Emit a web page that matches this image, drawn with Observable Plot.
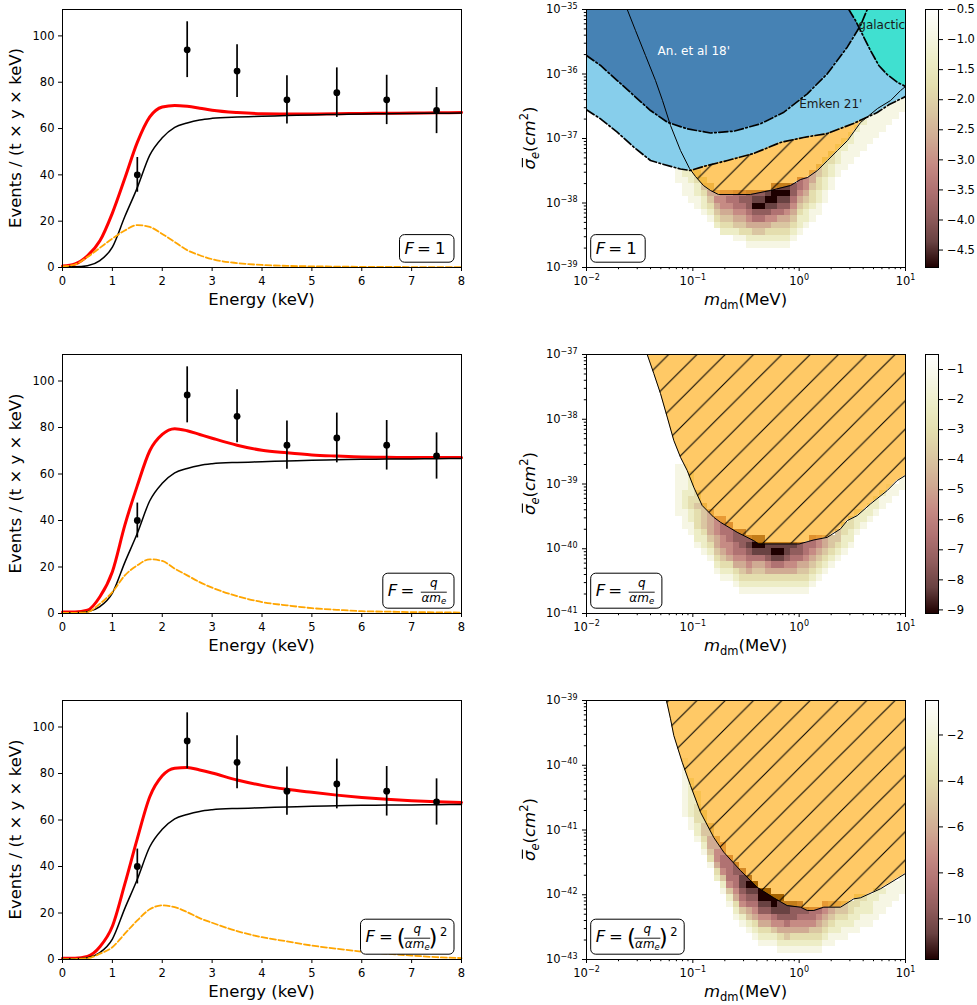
<!DOCTYPE html>
<html>
<head>
<meta charset="utf-8">
<script src="https://cdn.jsdelivr.net/npm/d3@7"></script>
<script src="https://cdn.jsdelivr.net/npm/@observablehq/plot@0.6"></script>
<style>
  html, body { margin: 0; padding: 0; background: #fff; }
  #fig { position: relative; width: 977px; height: 1005px; overflow: hidden; background: #fff; }
  .pn { position: absolute; }
  .pn svg { display: block; max-width: none !important; }
</style>
</head>
<body>
<div id="fig"></div>
<script>
// ================= DATA =================
// ---- left column: event spectra ----
const energyGrid = [0,0.25,0.5,0.75,1,1.25,1.5,1.75,2,2.25,2.5,2.75,3,3.5,4,4.5,5,5.5,6,6.5,7,7.5,8];
const background = [0.3,0.3,0.8,3.0,8.8,22,34.5,48.5,56,60.5,62.4,63.7,64.4,65,65.3,65.6,65.9,66.1,66.3,66.4,66.5,66.6,66.7];
const signalF1 = [0.5,1.3,4.5,8.5,12.5,16,18.3,17.5,14.5,11,7.5,5.3,3.6,1.9,1.1,0.7,0.5,0.4,0.3,0.3,0.2,0.2,0.2];
const totalF1  = [0.6,1.5,5,11.5,23.5,38.5,54,65,69.3,70,69.6,68.8,67.9,66.9,66.4,66.3,66.3,66.4,66.5,66.6,66.7,66.8,66.9];
const signalF2 = [0.3,0.3,0.6,4.2,9.2,16.4,20.7,23.3,22.6,19.3,16.4,13.5,11.1,7.5,4.9,3.5,2.3,1.6,1.0,0.8,0.6,0.5,0.4];
const totalF2  = [0.6,0.6,1.4,7.2,18,38,55,70,77,79.5,78.6,77,75.4,72.4,70.2,69.1,68.2,67.7,67.3,67.2,67.1,67.1,67.1];
const signalF3 = [0.2,0.2,0.5,2.5,5.3,11.1,16.8,21.6,23.3,22.5,20.4,17.8,15.8,12.2,9.6,7.8,6.0,4.6,3.4,2.5,1.7,1.0,0.6];
const totalF3  = [0.5,0.5,1.3,5.5,14.3,32.5,52,70,79,82.3,82.6,81.5,80.2,77.2,74.9,73.2,71.9,70.7,69.7,68.9,68.3,67.8,67.5];
const dataE  = [1.5,2.5,3.5,4.5,5.5,6.5,7.5];
const dataY  = [40,94,84.8,72.4,75.5,72.4,67.8];
const dataLo = [32.5,82,73.4,62,64.8,61.7,57.8];
const dataHi = [47.5,106.1,96.2,82.8,86.2,83,77.7];
const energyTicks = [0,1,2,3,4,5,6,7,8];
const eventTicks = [0,20,40,60,80,100];

// ---- right column: exclusion regions, [log10 m/MeV, log10 sigma/cm^2] ----
const orangeF1 = [[-1.617,-35.0],[-1.539,-35.326],[-1.445,-35.713],[-1.351,-36.101],[-1.285,-36.411],[-1.210,-36.798],[-1.116,-37.186],[-1.031,-37.465],[-0.975,-37.589],[-0.900,-37.729],[-0.834,-37.806],[-0.759,-37.868],[-0.458,-37.868],[-0.270,-37.806],[-0.081,-37.729],[0.013,-37.636],[0.078,-37.605],[0.172,-37.496],[0.266,-37.341],[0.360,-37.186],[0.455,-37.031],[0.577,-36.752],[0.737,-36.535],[0.860,-36.411],[0.954,-36.256],[1.0,-36.194]];
const emkenF1 = [[-2.0,-36.555],[-1.868,-36.695],[-1.711,-36.902],[-1.555,-37.135],[-1.398,-37.341],[-1.304,-37.388],[-1.116,-37.473],[-1.022,-37.496],[-0.900,-37.434],[-0.674,-37.341],[-0.429,-37.233],[-0.176,-37.062],[0.041,-36.984],[0.266,-36.922],[0.511,-36.767],[0.734,-36.597],[0.847,-36.473],[1.0,-36.349]];
const anF1 = [[-2.0,-35.713],[-1.868,-35.868],[-1.711,-36.101],[-1.555,-36.333],[-1.398,-36.566],[-1.241,-36.747],[-1.053,-36.850],[-0.834,-36.915],[-0.615,-36.887],[-0.364,-36.772],[-0.144,-36.592],[0.076,-36.307],[0.264,-35.997],[0.452,-35.584],[0.577,-35.248],[0.640,-35.0]];
const galacticF1 = [[0.467,-35.0],[0.530,-35.171],[0.608,-35.429],[0.671,-35.636],[0.749,-35.868],[0.828,-36.008],[0.922,-36.127],[1.0,-36.194]];
const orangeF2 = [[-1.429,-37.0],[-1.367,-37.294],[-1.304,-37.604],[-1.241,-37.966],[-1.179,-38.327],[-1.116,-38.587],[-1.053,-38.791],[-0.991,-39.050],[-0.912,-39.333],[-0.803,-39.514],[-0.740,-39.591],[-0.583,-39.746],[-0.427,-39.875],[-0.380,-39.926],[0.0,-39.926],[0.138,-39.864],[0.264,-39.824],[0.389,-39.693],[0.452,-39.565],[0.546,-39.488],[0.671,-39.307],[0.828,-39.101],[0.922,-38.946],[1.0,-38.868]];
const orangeF3 = [[-1.248,-39.0],[-1.210,-39.283],[-1.179,-39.541],[-1.100,-39.953],[-1.022,-40.313],[-0.928,-40.725],[-0.803,-41.116],[-0.709,-41.343],[-0.552,-41.626],[-0.395,-41.884],[-0.239,-42.048],[-0.113,-42.167],[0.013,-42.192],[0.076,-42.243],[0.138,-42.243],[0.232,-42.192],[0.389,-42.192],[0.514,-42.063],[0.577,-42.047],[0.765,-41.908],[1.0,-41.672]];
const annotText  = ["An. et al 18'", "Emken 21'", "galactic"];
const annotM     = [0.0466, 1.0, 3.6];
const annotSigma = [2.0e-36, 3.0e-37, 5.0e-36];
const annotColor = ["white", "#1a1a1a", "#1a1a1a"];

// ---- likelihood maps: [column, top row, shade levels downward] (1 = faint ... a = darkest)
const gridX0 = -2, gridDX = 0.06, gridDY = 0.1;
const heatF1 = [[14,15,"111"],[15,15,"22111"],[16,15,"222111"],[17,14,"332211"],[18,13,"343221"],[19,12,"454321"],[20,11,"565432"],[21,11,"6665432"],[22,11,"6765432"],[23,11,"77765421"],[24,11,"78765431"],[25,11,"888765321"],[26,11,"89a875421"],[27,11,"89a875421"],[28,11,"9a9865321"],[29,12,"8aa9764321"],[30,12,"9a98754321"],[31,12,"9a98654321"],[32,12,"887654321"],[33,13,"776543221"],[34,13,"66543221"],[35,14,"55433211"],[36,15,"44332211"],[37,16,"3332211"],[38,17,"332211"],[39,18,"22211"],[40,19,"22111"],[41,20,"22111"],[42,21,"21111"],[43,22,"21111"],[44,23,"11111"],[45,24,"11111"],[46,25,"11111"],[47,25,"1111"],[48,26,"1111"],[49,26,"111"]];
const heatF2 = [[14,22,"11111111"],[15,22,"1111222111"],[16,21,"2222332211"],[17,18,"334333221"],[18,16,"44443221"],[19,15,"55554321"],[20,14,"666554321"],[21,14,"6776654321"],[22,13,"777665321"],[23,12,"887765321"],[24,12,"8887654321"],[25,11,"898765321"],[26,11,"9a9754321"],[27,11,"9a9754321"],[28,10,"99865321"],[29,10,"9a975321"],[30,10,"9a975321"],[31,10,"99865321"],[32,10,"98765321"],[33,10,"88754321"],[34,10,"77654321"],[35,11,"77654321"],[36,11,"6654321"],[37,11,"554321"],[38,11,"44321"],[39,12,"44321"],[40,13,"33221"],[41,14,"33221"],[42,15,"2221"],[43,15,"221"],[44,16,"221"],[45,17,"221"],[46,18,"211"],[47,19,"111"],[48,19,"11"],[49,20,"11"]];
const heatF3 = [[15,30,"111111111"],[16,27,"22222211"],[17,25,"22333221"],[18,22,"3344321"],[19,20,"4455431"],[20,18,"5566532"],[21,17,"66776421"],[22,15,"77776421"],[23,14,"887765321"],[24,13,"899876421"],[25,12,"9a9875421"],[26,11,"a98765321"],[27,10,"aa9865321"],[28,10,"aa9865321"],[29,9,"aa976421"],[30,9,"a99865321"],[31,8,"99875421"],[32,8,"98865321"],[33,8,"88765321"],[34,7,"8765321"],[35,7,"7764321"],[36,7,"7654321"],[37,8,"6654321"],[38,8,"5543211"],[39,8,"543221"],[40,8,"443211"],[41,8,"33221"],[42,9,"332211"],[43,9,"32211"],[44,9,"22211"],[45,10,"22111"],[46,10,"2111"],[47,11,"1111"],[48,11,"111"],[49,12,"111"]];
const sigmaLow = [-39, -41, -43];
const cbDomains = [[-4.79, -0.5], [-9.12, -0.5], [-11.77, -0.5]];
const cbTicks = [[-0.5,-1,-1.5,-2,-2.5,-3,-3.5,-4,-4.5], [-1,-2,-3,-4,-5,-6,-7,-8,-9], [-2,-4,-6,-8,-10]];
const cbDecimals = [1, 0, 0];
// matplotlib "pink" colormap samples t = 0, 0.1, ..., 1
const pinkStops = ["#1e0000","#694242","#915d5d","#b07272","#c68b84","#d0ab93","#dac6a1","#e4deae","#ededc6","#f6f6e4","#ffffff"];

// ================= LAYOUT =================
const FONT = "DejaVu Sans";
const frameTop = [9, 354, 700];
const frameH = [258, 259, 259];
const legendKind = ["one", "frac", "frac2"];
const LEG_W = {one: 54.5, frac: 71.2, frac2: 93.5};
const LEG_H = {one: 27.6, frac: 35, frac2: 35};
const baseStyle = {fontFamily: FONT, fontSize: "11.5px", background: "transparent", overflow: "visible", color: "black"};
const pinkInterp = d3.piecewise(d3.interpolateRgb, pinkStops);
const DASHDOT = "9,2.6,1.6,2.6";

const SUP = {"-":"\u207B","0":"\u2070","1":"\u00B9","2":"\u00B2","3":"\u00B3","4":"\u2074","5":"\u2075","6":"\u2076","7":"\u2077","8":"\u2078","9":"\u2079"};
const UNSUP = Object.fromEntries(Object.entries(SUP).map(([a, b]) => [b, a]));
const pow10Label = d => "10" + String(Math.round(Math.log10(d))).split("").map(c => SUP[c]).join("");
const minus = (d, n) => (d < 0 ? "\u2212" : "") + Math.abs(d).toFixed(n);

function minorTicks(e0, e1) {
  const out = [];
  for (let e = e0; e < e1; e++) for (let k = 2; k <= 9; k++) out.push(k * 10 ** e);
  return out;
}
const toPts = arr => arr.map(([a, b]) => ({m: 10 ** a, s: 10 ** b}));

function decodeHeat(cols, lo, vmin, vmax) {
  const out = [];
  for (const [c, top, str] of cols) {
    for (let k = 0; k < str.length; k++) {
      const d = str[k] === "a" ? 10 : +str[k];
      const r = top - k;
      out.push({
        x1: 10 ** (gridX0 + gridDX * c), x2: 10 ** (gridX0 + gridDX * (c + 1)),
        y1: 10 ** (lo + gridDY * r), y2: 10 ** (lo + gridDY * (r + 1)),
        v: vmin + (1 - d / 10) * (vmax - vmin)
      });
    }
  }
  return out;
}

function txt(g, x, y, s, o = {}) {
  const t = g.append("text").attr("x", x).attr("y", y)
    .attr("font-family", FONT).attr("font-size", o.size || 16.5)
    .attr("text-anchor", o.anchor || "start").attr("fill", o.fill || "black").text(s);
  if (o.italic) t.attr("font-style", "italic");
  return t;
}

// turn "10⁻³⁵" tick labels into "10" + raised smaller exponent
function fixPow10Labels(svg) {
  d3.select(svg).selectAll('g[aria-label$="tick label"] text').each(function () {
    const s = this.textContent;
    if (!s.startsWith("10") || s.length < 3) return;
    const exp = s.slice(2).split("").map(c => UNSUP[c] ?? c).join("").replace("-", "\u2212");
    const t = d3.select(this);
    t.text("10");
    t.append("tspan").attr("font-size", 8).attr("dy", -4.6).text(exp);
  });
}

function drawLegend(svg, kind, bx, by) {
  const g = d3.select(svg).append("g");
  g.append("rect").attr("x", bx).attr("y", by).attr("width", LEG_W[kind]).attr("height", LEG_H[kind])
    .attr("rx", 5).attr("ry", 5).attr("fill", "white").attr("stroke", "black").attr("stroke-width", 1);
  const base = by + (kind === "one" ? 19 : 23.2);
  txt(g, bx + 5, base, "F", {italic: true});
  txt(g, bx + (kind === "frac2" ? 18.4 : 17.6), base, "=");
  if (kind === "one") { txt(g, bx + 35.5, base, "1"); return; }
  const cx = bx + (kind === "frac" ? 51 : 56.7);
  txt(g, cx, by + 13.5, "q", {italic: true, size: 12, anchor: "middle"});
  g.append("line").attr("x1", cx - 13).attr("x2", cx + 13).attr("y1", by + 19).attr("y2", by + 19)
    .attr("stroke", "black").attr("stroke-width", 0.9);
  const d = txt(g, cx, by + 28.6, "", {anchor: "middle", size: 12});
  d.append("tspan").attr("font-style", "italic").text("\u03B1m");
  d.append("tspan").attr("font-style", "italic").attr("font-size", 8.5).attr("dy", 2.5).text("e");
  if (kind === "frac2") {
    txt(g, bx + 36.3, by + 26.5, "(", {size: 23});
    txt(g, bx + 68, by + 26.5, ")", {size: 23});
    txt(g, bx + 79.5, by + 16.5, "2", {size: 11.5});
  }
}

function place(svg, left, top) {
  const div = document.createElement("div");
  div.className = "pn";
  div.style.left = left + "px";
  div.style.top = top + "px";
  div.appendChild(svg);
  document.getElementById("fig").appendChild(div);
}

// ================= LEFT PANELS =================
const totals = [totalF1, totalF2, totalF3];
const signals = [signalF1, signalF2, signalF3];
const dataPts = dataE.map((e, i) => ({e, y: dataY[i], lo: dataLo[i], hi: dataHi[i]}));
const asCurve = ys => energyGrid.map((e, i) => ({e, v: ys[i]}));

for (let k = 0; k < 3; k++) {
  const h = frameH[k];
  const svg = Plot.plot({
    width: 480, height: 9 + h + 46,
    marginTop: 9, marginBottom: 46, marginLeft: 62, marginRight: 19,
    style: baseStyle,
    x: {domain: [0, 8]},
    y: {domain: [0, 111.4]},
    marks: [
      Plot.line(asCurve(totals[k]), {x: "e", y: "v", stroke: "red", strokeWidth: 3, curve: "monotone-x"}),
      Plot.line(asCurve(background), {x: "e", y: "v", stroke: "black", strokeWidth: 1.5, curve: "monotone-x"}),
      Plot.line(asCurve(signals[k]), {x: "e", y: "v", stroke: "orange", strokeWidth: 1.8, strokeDasharray: "6,2.6", curve: "monotone-x"}),
      Plot.ruleX(dataPts, {x: "e", y1: "lo", y2: "hi", stroke: "black", strokeWidth: 1.7}),
      Plot.dot(dataPts, {x: "e", y: "y", r: 3.4, fill: "black"}),
      Plot.frame({stroke: "black"}),
      Plot.axisX({ticks: energyTicks, tickSize: 4, tickPadding: 5, tickFormat: d => String(d), label: null}),
      Plot.axisY({ticks: eventTicks, tickSize: 4, tickPadding: 4, tickFormat: d => String(d), label: null})
    ]
  });
  const s = d3.select(svg);
  txt(s, 261.5, 9 + h + 37.5, "Energy (keV)", {anchor: "middle"});
  const gy = s.append("g").attr("transform", `translate(21,${9 + h / 2}) rotate(-90)`);
  txt(gy, 0, 0, "Events / (t \u00D7 y \u00D7 keV)", {anchor: "middle"});
  const kind = legendKind[k];
  drawLegend(svg, kind, 454 - LEG_W[kind], 9 + h - 4.8 - LEG_H[kind]);
  place(svg, 0, frameTop[k] - 9);
}

// ================= RIGHT PANELS =================
const orangeBounds = [orangeF1, orangeF2, orangeF3];
const heats = [heatF1, heatF2, heatF3];
const minorX = minorTicks(-2, 1);

for (let k = 0; k < 3; k++) {
  const h = frameH[k], lo = sigmaLow[k], top = 10 ** (lo + 4);
  const [vmin, vmax] = cbDomains[k];
  const orange = toPts(orangeBounds[k]);
  const heat = decodeHeat(heats[k], lo, vmin, vmax);
  const color = {type: "linear", domain: [vmin, vmax], interpolate: pinkInterp};
  const marks = [
    Plot.rect(heat, {x1: "x1", x2: "x2", y1: "y1", y2: "y2", fill: "v", shapeRendering: "crispEdges"}),
    Plot.areaY(orange, {x: "m", y1: "s", y2: top, fill: "orange", fillOpacity: 0.6, clip: true}),
    Plot.areaY(orange, {x: "m", y1: "s", y2: top, fill: `url(#hatch${k})`, clip: true})
  ];
  if (k === 0) {
    const em = toPts(emkenF1), an = toPts(anF1), ga = toPts(galacticF1);
    marks.push(
      Plot.areaY(em, {x: "m", y1: "s", y2: top, fill: "skyblue", clip: true}),
      Plot.areaY(an, {x: "m", y1: "s", y2: top, fill: "steelblue", clip: true}),
      Plot.areaY(ga, {x: "m", y1: "s", y2: top, fill: "turquoise", clip: true}),
      Plot.line(em, {x: "m", y: "s", stroke: "black", strokeWidth: 1.7, strokeDasharray: DASHDOT, clip: true}),
      Plot.line(an, {x: "m", y: "s", stroke: "black", strokeWidth: 1.7, strokeDasharray: DASHDOT, clip: true}),
      Plot.line(ga, {x: "m", y: "s", stroke: "black", strokeWidth: 1.7, strokeDasharray: DASHDOT, clip: true})
    );
  }
  marks.push(Plot.line(orange, {x: "m", y: "s", stroke: "black", strokeWidth: 1, clip: true}));
  if (k === 0) {
    annotText.forEach((t, i) => marks.push(
      Plot.text([{m: annotM[i], s: annotSigma[i], t}], {x: "m", y: "s", text: "t", fill: annotColor[i],
        textAnchor: "start", lineAnchor: "bottom", fontSize: 12})
    ));
  }
  const majorY = [0, 1, 2, 3, 4].map(i => 10 ** (lo + i));
  const minorY = minorTicks(lo, lo + 4);
  marks.push(
    Plot.frame({stroke: "black"}),
    Plot.axisX({ticks: minorX, tickSize: 2.2, tickFormat: () => "", label: null}),
    Plot.axisY({ticks: minorY, tickSize: 2.2, tickFormat: () => "", label: null}),
    Plot.axisX({ticks: [0.01, 0.1, 1, 10], tickSize: 4, tickPadding: 5, tickFormat: pow10Label, label: null}),
    Plot.axisY({ticks: majorY, tickSize: 4, tickPadding: 5, tickFormat: pow10Label, label: null})
  );
  const svg = Plot.plot({
    width: 438, height: 9 + h + 46,
    marginTop: 9, marginBottom: 46, marginLeft: 106, marginRight: 13,
    style: baseStyle,
    x: {type: "log", domain: [0.01, 10]},
    y: {type: "log", domain: [10 ** lo, top]},
    color,
    marks
  });
  fixPow10Labels(svg);
  const s = d3.select(svg);
  const sp = 28.3;
  const pat = s.insert("defs", ":first-child").append("pattern").attr("id", `hatch${k}`)
    .attr("patternUnits", "userSpaceOnUse").attr("width", sp).attr("height", sp);
  pat.append("path")
    .attr("d", `M0,${sp} L${sp},0 M${-sp / 4},${sp / 4} L${sp / 4},${-sp / 4} M${3 * sp / 4},${5 * sp / 4} L${5 * sp / 4},${3 * sp / 4}`)
    .attr("stroke", "black").attr("stroke-width", 1.05).attr("fill", "none");
  // x label
  const xl = txt(s, 265.5, 9 + h + 38, "", {anchor: "middle"});
  xl.append("tspan").attr("font-style", "italic").text("m");
  xl.append("tspan").attr("font-size", 11.5).attr("dy", 4).text("dm");
  xl.append("tspan").attr("dy", -4).text("(MeV)");
  // y label
  const gy = s.append("g").attr("transform", `translate(55,${9 + h / 2}) rotate(-90)`);
  const yl = txt(gy, 0, 0, "", {anchor: "middle"});
  yl.append("tspan").attr("font-style", "italic").text("\u03C3");
  yl.append("tspan").attr("font-style", "italic").attr("font-size", 11.5).attr("dy", 4).text("e");
  yl.append("tspan").attr("dy", -4).text("(");
  yl.append("tspan").attr("font-style", "italic").text("cm");
  yl.append("tspan").attr("font-size", 11.5).attr("dy", -7).text("2");
  yl.append("tspan").attr("dy", 7).text(")");
  const kind = legendKind[k];
  drawLegend(svg, kind, 110.7, 9 + h - 4.8 - LEG_H[kind]);
  place(svg, 480, frameTop[k] - 9);
  try {
    const e = yl.node().getExtentOfChar(0);
    gy.append("line").attr("x1", e.x + 2.2).attr("x2", e.x + e.width + 1).attr("y1", -12.6).attr("y2", -12.6)
      .attr("stroke", "black").attr("stroke-width", 1.1);
  } catch (err) {}

  // colorbar
  const cb = Plot.plot({
    width: 59, height: 9 + h + 46,
    marginTop: 9, marginBottom: 46, marginLeft: 7, marginRight: 39,
    style: baseStyle,
    x: {domain: [0, 1], axis: null},
    y: {domain: [vmin, vmax]},
    color,
    marks: [
      Plot.raster({fill: (x, y) => y, x1: 0, x2: 1, y1: vmin, y2: vmax}),
      Plot.frame({stroke: "black"}),
      Plot.axisY({anchor: "right", ticks: cbTicks[k], tickSize: 4, tickPadding: 4.5, tickFormat: d => minus(d, cbDecimals[k]), label: null})
    ]
  });
  place(cb, 918, frameTop[k] - 9);
}
</script>
</body>
</html>
